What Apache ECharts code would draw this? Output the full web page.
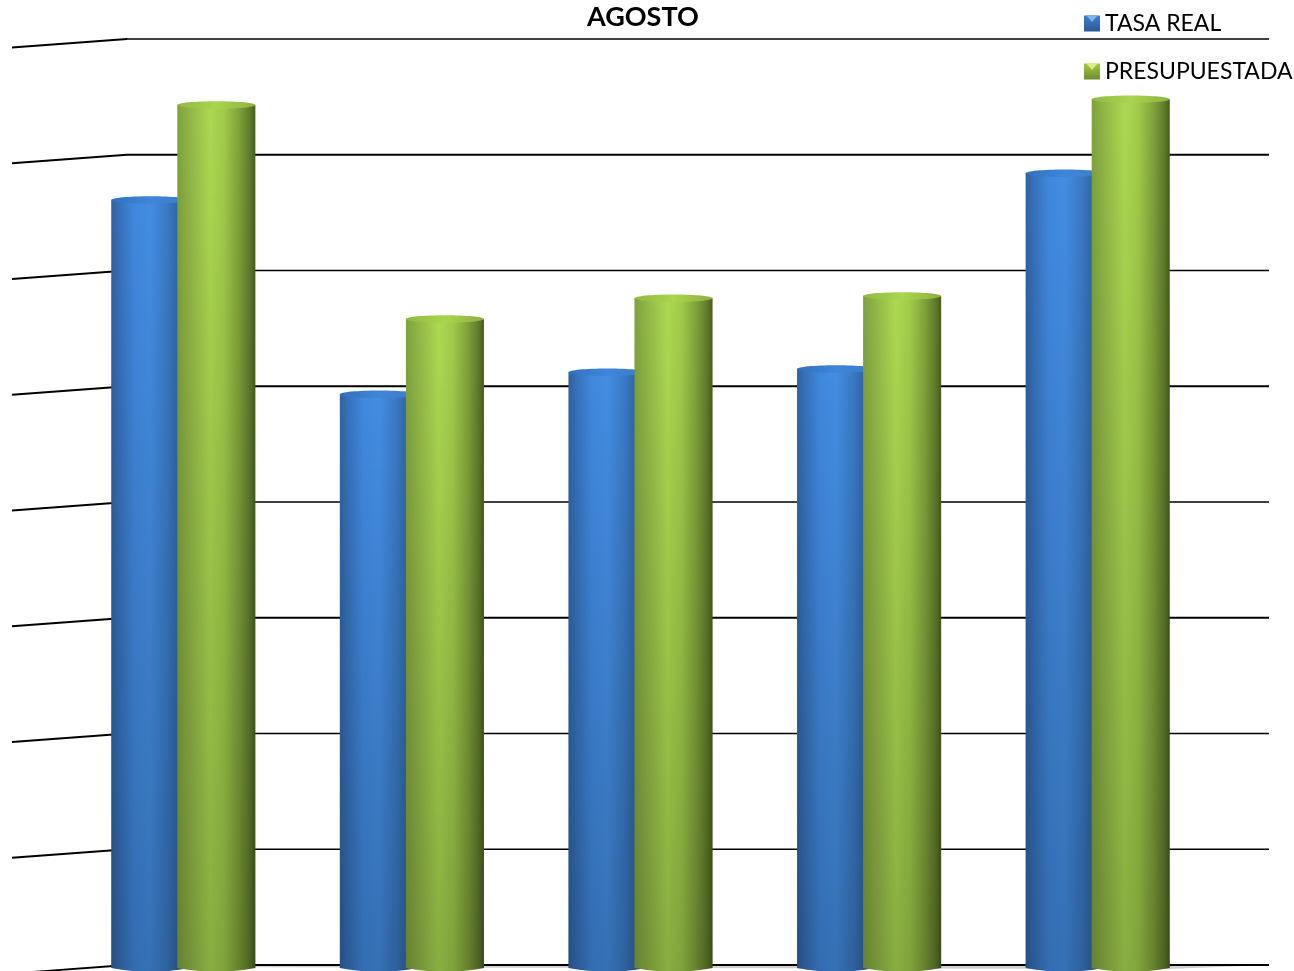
<!DOCTYPE html>
<html>
<head>
<meta charset="utf-8">
<style>html,body{margin:0;padding:0;background:#fff;overflow:hidden}#c{width:1294px;height:971px}</style>
<script src="https://cdn.jsdelivr.net/npm/echarts@6/dist/echarts.min.js"></script>
</head>
<body>
<div id="c"></div>
<script>
const titleText = 'AGOSTO';
const categories = ['1', '2', '3', '4', '5'];
const tasaReal = [6.61, 4.93, 5.12, 5.15, 6.84];
const presupuestada = [7.43, 5.58, 5.76, 5.78, 7.48];
const yTicks = [0, 1, 2, 3, 4, 5, 6, 7, 8];
const boldTicks = [7, 5, 3, 0];

const G = echarts.graphic;
const chart = echarts.init(document.getElementById('c'), null, {renderer: 'canvas'});

function hGrad(stops) {
  return new G.LinearGradient(0, 0, 1, 0, stops.map(s => ({offset: s[0], color: s[1]})));
}
const blueBody = hGrad([[0,'#2f629f'],[0.1,'#3670b8'],[0.3,'#4088de'],[0.5,'#438de2'],[0.72,'#3a79c4'],[0.9,'#2d5f9e'],[1,'#234d82']]);
const greenBody = hGrad([[0,'#7ea23b'],[0.12,'#8db045'],[0.42,'#abd950'],[0.6,'#a0cb4a'],[0.8,'#7e9f39'],[0.93,'#5f7b2a'],[1,'#475d1d']]);
const blueTop = hGrad([[0,'#3270bb'],[0.5,'#3f86da'],[1,'#3a7ac6']]);
const greenTop = hGrad([[0,'#93b843'],[0.5,'#a8d64d'],[1,'#8fb040']]);
const shade = new G.LinearGradient(0,0,0,1,[{offset:0,color:'rgba(0,0,0,0)'},{offset:1,color:'rgba(0,0,0,0.2)'}]);
const blueIcon = new G.LinearGradient(0,0,0,1,[{offset:0,color:'#3f7fcb'},{offset:1,color:'#2c5a94'}]);
const greenIcon = new G.LinearGradient(0,0,0,1,[{offset:0,color:'#a4cc48'},{offset:1,color:'#6f8c30'}]);

function cylinder(offsetSign, body, top) {
  return function (params, api) {
    const band = api.size([1, 0])[0];
    const p = api.coord([api.value(0), api.value(1)]);
    const base = api.coord([api.value(0), 0]);
    const w = band * 0.3415;
    const cx = p[0] + offsetSign * band * 0.1445;
    const x = cx - w / 2;
    const ry = w * 0.048;
    const bottom = base[1] + 3;
    const path = `M${x} ${p[1]} L${x+w} ${p[1]} L${x+w} ${bottom} Q${cx} ${bottom+2*ry} ${x} ${bottom} Z`;
    return {
      type: 'group',
      children: [
        {type: 'path', shape: {pathData: path, x: x, y: p[1], width: w, height: bottom + ry - p[1], layout: 'cover'}, style: {fill: body}},
        {type: 'path', shape: {pathData: path, x: x, y: p[1], width: w, height: bottom + ry - p[1], layout: 'cover'}, style: {fill: shade}},
        {type: 'ellipse', shape: {cx: cx, cy: p[1], rx: w / 2, ry: ry}, style: {fill: top}}
      ]
    };
  };
}

function wall(params, api) {
  const v = api.value(1);
  const back = api.coord([0, v]);
  const right = api.coord([1, v]);
  const lw = boldTicks.indexOf(v) >= 0 ? 2 : 1.4;
  const children = [
    {type: 'line', shape: {x1: back[0], y1: back[1], x2: right[0], y2: right[1]}, style: {stroke: '#000', lineWidth: lw}},
    {type: 'line', shape: {x1: back[0], y1: back[1], x2: back[0] - 115, y2: back[1] + 8.5}, style: {stroke: '#000', lineWidth: 1.8}}
  ];
  if (v === 0) {
    children.unshift({type: 'polygon', shape: {points: [[back[0], back[1]], [right[0], right[1]], [right[0] - 100, right[1] + 4], [back[0], right[1] + 2]]}, style: {fill: '#cfcfcf'}});
  }
  return {type: 'group', children};
}

function marker(x, y, fill) {
  return {type: 'polygon', silent: true, z: 20, shape: {points: [[x + 2, y + 1], [x + 14, y + 1], [x + 8, y + 8]]}, style: {fill}};
}

chart.setOption({
  animation: false,
  backgroundColor: '#fff',
  title: {
    text: titleText, left: 582, top: -1,
    textStyle: {fontFamily: 'Lato', fontWeight: 'bold', fontSize: 27, color: '#000'}
  },
  legend: {
    orient: 'vertical', left: 1079, top: 7, itemWidth: 16, itemHeight: 16, itemGap: 25,
    data: [
      {name: 'TASA REAL', icon: 'rect'},
      {name: 'PRESUPUESTADA', icon: 'rect'}
    ],
    textStyle: {fontFamily: 'Lato', fontSize: 23, color: '#000', padding: [0, 0, 2, 0]}
  },
  graphic: [
    marker(1084, 14, '#7fb4ea'),
    marker(1084, 62, '#dcec86')
  ],
  grid: [
    {left: 127, right: 25, top: 39, bottom: 6},
    {left: 69, width: 1143, top: 39, bottom: 6}
  ],
  xAxis: [
    {type: 'value', gridIndex: 0, min: 0, max: 1, show: false},
    {type: 'category', gridIndex: 1, data: categories, show: false}
  ],
  yAxis: [
    {type: 'value', gridIndex: 0, min: 0, max: 8, interval: 1, show: false},
    {type: 'value', gridIndex: 1, min: 0, max: 8, interval: 1, show: false}
  ],
  series: [
    {type: 'custom', name: 'wall', xAxisIndex: 0, yAxisIndex: 0, z: 1, clip: false, silent: true,
     renderItem: wall, data: yTicks.map(v => [0, v])},
    {type: 'custom', name: 'TASA REAL', xAxisIndex: 1, yAxisIndex: 1, z: 2, clip: false,
     itemStyle: {color: blueIcon}, renderItem: cylinder(-1, blueBody, blueTop),
     encode: {x: 0, y: 1}, data: tasaReal.map((v, i) => [i, v])},
    {type: 'custom', name: 'PRESUPUESTADA', xAxisIndex: 1, yAxisIndex: 1, z: 3, clip: false,
     itemStyle: {color: greenIcon}, renderItem: cylinder(1, greenBody, greenTop),
     encode: {x: 0, y: 1}, data: presupuestada.map((v, i) => [i, v])}
  ]
});
</script>
</body>
</html>
